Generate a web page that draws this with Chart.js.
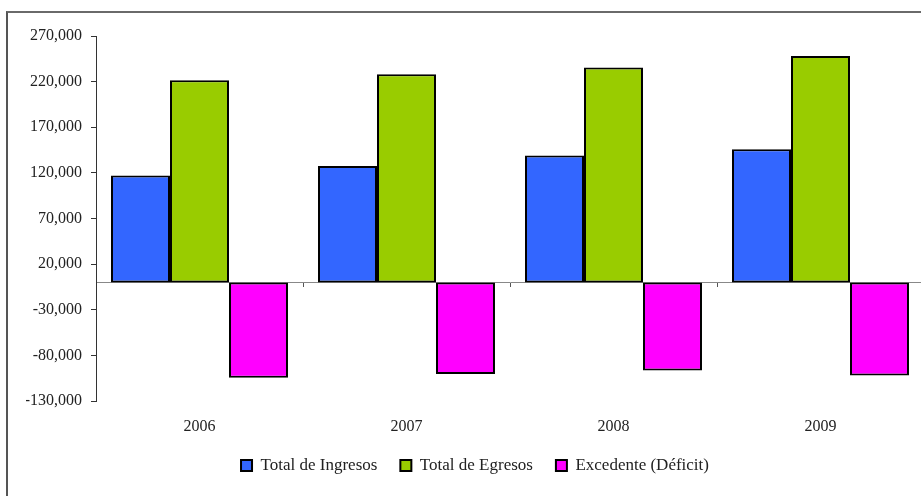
<!DOCTYPE html>
<html>
<head>
<meta charset="utf-8">
<script src="https://cdn.jsdelivr.net/npm/chart.js@4/dist/chart.umd.min.js"></script>
<style>
  html, body { margin: 0; padding: 0; background: #fff; overflow: hidden; width: 921px; height: 496px; }
  .frame { position: absolute; left: 6px; top: 11px; width: 1000px; height: 600px;
           border-left: 2px solid #555; border-top: 2px solid #6a6a6a; }
  #chart { position: absolute; left: 8px; top: 13px; }
</style>
</head>
<body>
<div class="frame"></div>
<canvas id="chart" width="955" height="483"></canvas>
<script>
"use strict";
const years = ["2006", "2007", "2008", "2009"];
const ingresos = [117000, 127500, 139000, 146000];
const egresos = [221500, 228000, 235500, 248000];
const excedente = [-104500, -100500, -96500, -102000];
const yMin = -130000, yMax = 270000, yStep = 50000;

Chart.defaults.font.family = "'Liberation Serif', 'Times New Roman', serif";
Chart.defaults.color = "#222";

const bar = (label, data, color) => ({
  label, data, backgroundColor: color, borderColor: "#000", borderWidth: 2,
  borderSkipped: false, barPercentage: 1, categoryPercentage: 0.855,
});

new Chart(document.getElementById("chart"), {
  type: "bar",
  data: {
    labels: years,
    datasets: [
      bar("Total de Ingresos", ingresos, "#3366ff"),
      bar("Total de Egresos", egresos, "#99cc00"),
      bar("Excedente (Déficit)", excedente, "#ff00ff"),
    ]
  },
  options: {
    responsive: false,
    animation: false,
    layout: { padding: { top: 23, right: 39, bottom: 12, left: 18 } },
    plugins: {
      tooltip: { enabled: false },
      legend: {
        position: "bottom",
        labels: { boxWidth: 11, boxHeight: 11, padding: 23, font: { size: 17 }, color: "#222" }
      }
    },
    scales: {
      // axis line crossing at zero, with category tick marks only
      x: {
        type: "category",
        position: { y: 0 },
        offset: true,
        ticks: { display: false },
        grid: { display: true, drawOnChartArea: false, drawTicks: true, tickLength: 4, offset: true, color: "#555" },
        border: { display: true, color: "#888", width: 1 }
      },
      // year labels along the bottom
      x2: {
        type: "category",
        position: "bottom",
        offset: true,
        grid: { display: false, drawTicks: false },
        border: { display: false },
        ticks: { padding: 16, font: { size: 16 }, color: "#222" },
        afterFit: s => { s.height = 33; }
      },
      y: {
        min: yMin, max: yMax,
        ticks: { stepSize: yStep, padding: 9, font: { size: 16 }, color: "#222",
                 callback: v => v.toLocaleString("en-US") },
        grid: { display: true, drawOnChartArea: false, drawTicks: true, tickLength: 5, color: "#333" },
        border: { display: true, color: "#333", width: 1 },
        afterFit: s => { s.width = 70; }
      }
    }
  }
});
</script>
</body>
</html>
